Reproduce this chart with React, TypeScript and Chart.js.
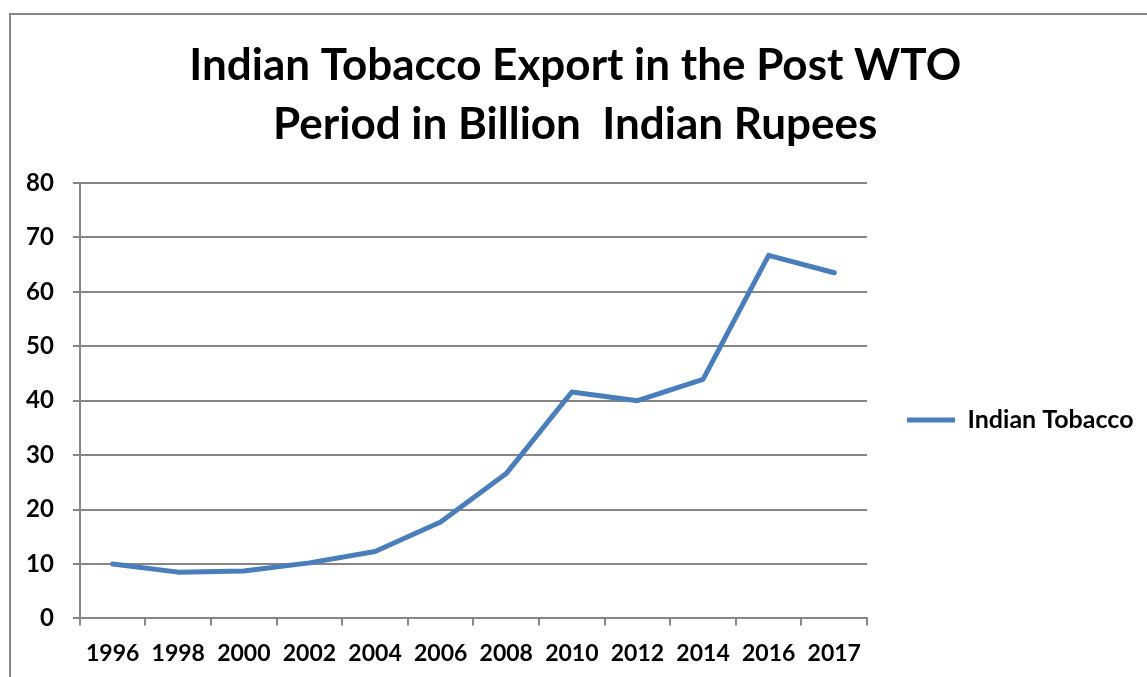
import React, { useEffect, useRef } from "react";
import { Chart, registerables } from "chart.js";

Chart.register(...registerables);

const categories = ["1996", "1998", "2000", "2002", "2004", "2006", "2008", "2010", "2012", "2014", "2016", "2017"];
const tobaccoValues = [10.0, 8.5, 8.7, 10.2, 12.3, 17.7, 26.6, 41.6, 40.0, 43.9, 66.7, 63.5];
const seriesName = "Indian Tobacco";
const titleLines = ["Indian Tobacco Export in the Post WTO", "Period in Billion  Indian Rupees"];

const FONT = "Lato, 'Open Sans', sans-serif";

export default function App() {
  const ref = useRef<HTMLCanvasElement | null>(null);
  useEffect(() => {
    if (!ref.current) return;
    const chart = new Chart(ref.current, {
      type: "line",
      data: {
        labels: categories,
        datasets: [
          {
            label: seriesName,
            data: tobaccoValues,
            borderColor: "#4A7EBB",
            backgroundColor: "#4A7EBB",
            borderWidth: 5,
            pointRadius: 0,
            pointHoverRadius: 0,
            tension: 0,
            borderCapStyle: "round",
            borderJoinStyle: "round",
          },
        ],
      },
      options: {
        animation: false,
        responsive: false,
        maintainAspectRatio: false,
        layout: { padding: { left: 7, right: 3.5, top: 0, bottom: -4 } },
        plugins: {
          title: {
            display: true,
            text: titleLines,
            color: "#000",
            font: { family: FONT, size: 44, weight: "bold", lineHeight: 1.34 },
            padding: { top: 36, bottom: 29 },
          },
          legend: {
            position: "right",
            title: {
              display: true,
              text: "",
              font: { size: 12, lineHeight: 1.2 },
              padding: { top: 144.6, bottom: 0 },
            },
            labels: {
              usePointStyle: true,
              pointStyle: "line",
              pointStyleWidth: 48,
              color: "#000",
              font: { family: FONT, size: 25, weight: "bold" },
              padding: 40,
            },
          },
          tooltip: { enabled: false },
        },
        scales: {
          x: {
            type: "category",
            offset: true,
            grid: {
              offset: true,
              drawOnChartArea: false,
              drawTicks: true,
              tickLength: 7,
              color: "#868686",
              lineWidth: 2,
            },
            border: { display: true, color: "#868686", width: 2 },
            ticks: {
              color: "#000",
              font: { family: FONT, size: 23, weight: "bold" },
              padding: 14,
              maxRotation: 0,
              autoSkip: false,
            },
          },
          y: {
            min: 0,
            max: 80,
            ticks: {
              stepSize: 10,
              color: "#000",
              font: { family: FONT, size: 24, weight: "bold" },
              padding: 19,
            },
            grid: {
              color: "#868686",
              lineWidth: 2,
              tickLength: 7,
            },
            border: { display: true, color: "#868686", width: 2 },
          },
        },
      },
    });
    return () => chart.destroy();
  }, []);
  return (
    <div style={{ position: "fixed", left: 0, top: 0, width: 1147, height: 677, background: "#fff" }}>
      <div
        style={{
          position: "absolute",
          left: 9,
          top: 13,
          width: 1147,
          height: 677,
          borderLeft: "2px solid #878787",
          borderTop: "2px solid #878787",
          boxSizing: "border-box",
        }}
      />
      <canvas ref={ref} width={1147} height={677} style={{ position: "absolute", left: 0, top: 0, width: 1147, height: 677 }} />
    </div>
  );
}
